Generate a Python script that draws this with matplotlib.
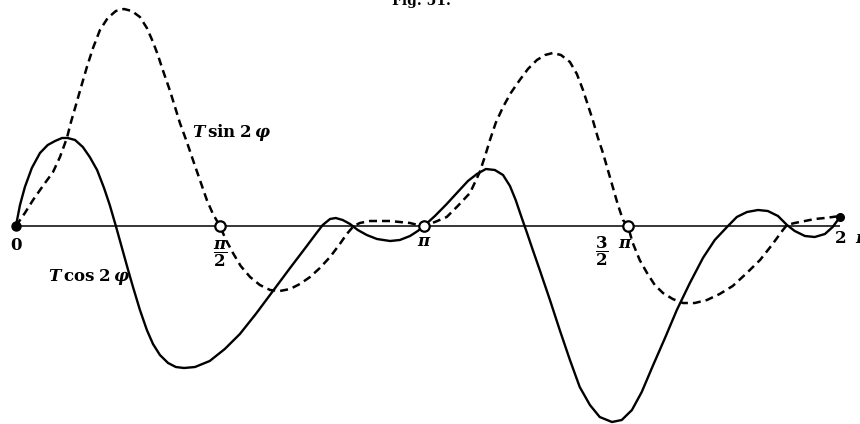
import matplotlib
matplotlib.use("Agg")
import matplotlib.pyplot as plt

plt.rcParams["mathtext.fontset"] = "custom"
plt.rcParams["mathtext.rm"] = "DejaVu Serif:bold"
plt.rcParams["mathtext.it"] = "DejaVu Serif:italic:bold"
plt.rcParams["mathtext.bf"] = "DejaVu Serif:bold"

# phi in units of pi, values in units of T
cos_phi = [0.000, 0.010, 0.022, 0.039, 0.059, 0.078, 0.096, 0.113, 0.127, 0.145,
           0.164, 0.181, 0.199, 0.216, 0.230, 0.245, 0.260, 0.275, 0.287, 0.304,
           0.321, 0.336, 0.353, 0.373, 0.392, 0.412, 0.439, 0.475, 0.512, 0.549,
           0.588, 0.630, 0.672, 0.713, 0.735, 0.752, 0.770, 0.784, 0.801, 0.819,
           0.838, 0.860, 0.885, 0.917, 0.941, 0.966, 0.985, 1.000, 1.027, 1.056,
           1.083, 1.108, 1.130, 1.152, 1.174, 1.194, 1.211, 1.225, 1.240, 1.252,
           1.267, 1.284, 1.309, 1.333, 1.358, 1.382, 1.407, 1.431, 1.461, 1.485,
           1.510, 1.534, 1.561, 1.591, 1.620, 1.652, 1.684, 1.713, 1.743, 1.767,
           1.792, 1.819, 1.843, 1.868, 1.890, 1.909, 1.934, 1.958, 1.983, 2.002,
           2.020]
cos_val = [0.00, 0.21, 0.39, 0.58, 0.73, 0.81, 0.85, 0.88, 0.88, 0.86,
           0.79, 0.69, 0.56, 0.38, 0.21, 0.00, -0.22, -0.44, -0.61, -0.84,
           -1.04, -1.18, -1.29, -1.37, -1.41, -1.42, -1.41, -1.35, -1.23, -1.08,
           -0.88, -0.65, -0.42, -0.20, -0.08, 0.01, 0.07, 0.08, 0.06, 0.02,
           -0.04, -0.09, -0.13, -0.15, -0.14, -0.10, -0.05, 0.00, 0.10, 0.22,
           0.34, 0.45, 0.52, 0.57, 0.56, 0.51, 0.40, 0.26, 0.08, -0.06,
           -0.24, -0.44, -0.74, -1.04, -1.34, -1.61, -1.79, -1.91, -1.96, -1.94,
           -1.84, -1.66, -1.40, -1.12, -0.84, -0.57, -0.32, -0.14, -0.01, 0.09,
           0.14, 0.16, 0.15, 0.10, 0.01, -0.05, -0.10, -0.11, -0.08, -0.01,
           0.09]

sin_phi = [0.000, 0.022, 0.042, 0.066, 0.091, 0.108, 0.125, 0.135, 0.145, 0.159,
           0.174, 0.189, 0.206, 0.225, 0.245, 0.265, 0.284, 0.304, 0.321, 0.336,
           0.348, 0.360, 0.377, 0.390, 0.402, 0.419, 0.434, 0.451, 0.468, 0.483,
           0.500, 0.515, 0.532, 0.551, 0.574, 0.598, 0.623, 0.647, 0.672, 0.696,
           0.721, 0.745, 0.770, 0.794, 0.811, 0.828, 0.843, 0.868, 0.892, 0.917,
           0.941, 0.966, 0.985, 1.000, 1.027, 1.056, 1.083, 1.113, 1.137, 1.150,
           1.162, 1.176, 1.194, 1.213, 1.235, 1.255, 1.277, 1.297, 1.316, 1.336,
           1.358, 1.375, 1.390, 1.402, 1.414, 1.426, 1.439, 1.451, 1.463, 1.475,
           1.488, 1.500, 1.512, 1.529, 1.547, 1.566, 1.586, 1.610, 1.635, 1.664,
           1.694, 1.725, 1.757, 1.789, 1.824, 1.853, 1.880, 1.890, 1.909, 1.934,
           1.958, 1.983, 2.002, 2.020]
sin_val = [0.00, 0.13, 0.26, 0.40, 0.54, 0.69, 0.88, 1.04, 1.18, 1.38,
           1.59, 1.78, 1.96, 2.08, 2.15, 2.17, 2.15, 2.09, 1.98, 1.84,
           1.71, 1.56, 1.36, 1.19, 1.03, 0.84, 0.66, 0.46, 0.26, 0.12,
           0.00, -0.14, -0.27, -0.40, -0.51, -0.59, -0.64, -0.65, -0.63, -0.58,
           -0.51, -0.42, -0.31, -0.18, -0.08, 0.00, 0.03, 0.05, 0.05, 0.05,
           0.04, 0.03, 0.01, 0.00, 0.04, 0.09, 0.20, 0.33, 0.54, 0.70,
           0.86, 1.03, 1.19, 1.33, 1.46, 1.57, 1.66, 1.71, 1.73, 1.71,
           1.64, 1.52, 1.36, 1.21, 1.06, 0.89, 0.73, 0.56, 0.39, 0.22,
           0.06, 0.00, -0.17, -0.34, -0.47, -0.59, -0.67, -0.73, -0.77, -0.77,
           -0.74, -0.68, -0.60, -0.48, -0.34, -0.19, -0.04, 0.01, 0.03, 0.05,
           0.07, 0.08, 0.09, 0.10]

open_marks = [0.5, 1.0, 1.5]

fig = plt.figure(figsize=(8.6, 4.24), dpi=100)
ax = fig.add_axes([0, 0, 1, 1])
ax.set_xlim(-0.039, 2.069)
ax.set_ylim(-1.98, 2.26)
ax.axis("off")

# phi axis
ax.hlines(0, cos_phi[0], cos_phi[-1], color="black", linewidth=1.1, zorder=1)

ax.plot(cos_phi, cos_val, color="black", linewidth=1.7, solid_capstyle="round",
        solid_joinstyle="round", zorder=3)
ax.plot(sin_phi, sin_val, color="black", linewidth=1.8, linestyle=(0, (3.2, 2.0)),
        zorder=3)

ax.plot([cos_phi[0]], [0], "o", color="black", markersize=6.5, zorder=4)
ax.plot([cos_phi[-1]], [cos_val[-1]], "o", color="black", markersize=5.5, zorder=4)
ax.plot(open_marks, [0] * len(open_marks), "o", markerfacecolor="white",
        markeredgecolor="black", markeredgewidth=1.6, markersize=7.5, zorder=5)

fs = 12
ax.text(0.0, -0.19, "$0$", fontsize=fs, ha="center", va="center")
ax.text(0.5, -0.28, r"$\dfrac{\pi}{2}$", fontsize=fs, ha="center", va="center")
ax.text(1.0, -0.15, r"$\pi$", fontsize=fs, ha="center", va="center")
ax.text(1.436, -0.25, r"$\dfrac{3}{2}$", fontsize=fs, ha="center", va="center")
ax.text(1.493, -0.17, r"$\pi$", fontsize=fs, ha="center", va="center")
ax.text(2.005, -0.12, r"$2\;\;\pi$", fontsize=fs, ha="left", va="center", clip_on=False)

ax.text(0.431, 0.94, r"$T\,\mathrm{sin}\;2\,\varphi$", fontsize=fs, ha="left", va="center")
ax.text(0.078, -0.51, r"$T\,\mathrm{cos}\;2\,\varphi$", fontsize=fs, ha="left", va="center")

fig.text(0.49, 1 - 5 / 424, "Fig. 51.", fontsize=10, fontweight="bold",
         family="DejaVu Serif", ha="center", va="baseline")

fig.savefig("out.png", dpi=100, facecolor="white")
